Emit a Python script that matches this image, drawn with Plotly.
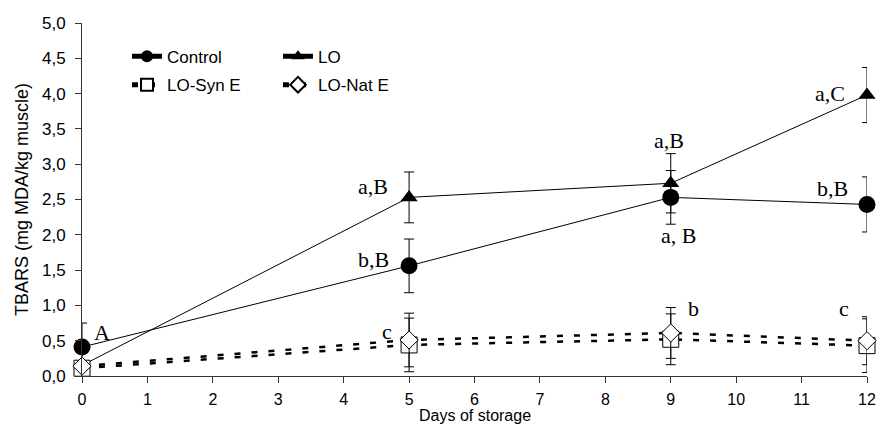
import plotly.graph_objects as go

days = [0, 5, 9, 12]

control = [0.41, 1.56, 2.53, 2.43]
control_err = [0.34, 0.38, 0.38, 0.39]

lo = [0.15, 2.53, 2.73, 3.98]
lo_err = [0.05, 0.36, 0.42, 0.39]

lo_syn = [0.11, 0.44, 0.52, 0.43]
lo_syn_err = [0.03, 0.38, 0.36, 0.38]

lo_nat = [0.14, 0.51, 0.61, 0.50]
lo_nat_err = [0.03, 0.38, 0.36, 0.34]

x_ticks = list(range(0, 13))
y_ticks = [0, 0.5, 1, 1.5, 2, 2.5, 3, 3.5, 4, 4.5, 5]

# significance letters: (series, day index, text, xshift, yshift)
labels = [
    ("control", 0, "A", 20, 15),
    ("control", 1, "b,B", -36, 6),
    ("lo", 1, "a,B", -36, 11),
    ("nat", 1, "c", -22, 8),
    ("lo", 2, "a,B", -2, 43),
    ("control", 2, "a, B", 8, -38),
    ("nat", 2, "b", 23, 24),
    ("lo", 3, "a,C", -37, 2),
    ("control", 3, "b,B", -35, 16),
    ("nat", 3, "c", -23, 32),
]

series_vals = {"control": control, "lo": lo, "syn": lo_syn, "nat": lo_nat}

BLACK = "black"
SANS = "Liberation Sans, Arial, sans-serif"
SERIF = "Liberation Serif, Times New Roman, serif"

fig = go.Figure()

def err(vals):
    return dict(type="data", array=vals, visible=True, color=BLACK,
                thickness=1, width=5)

fig.add_trace(go.Scatter(
    x=days, y=control, name="Control", mode="lines+markers",
    line=dict(color=BLACK, width=1),
    marker=dict(symbol="circle", size=17, color=BLACK),
    error_y=err(control_err), cliponaxis=False, legend="legend"))

fig.add_trace(go.Scatter(
    x=days, y=lo, name="LO", mode="lines+markers",
    line=dict(color=BLACK, width=1),
    marker=dict(symbol="triangle-up", size=15, color=BLACK),
    error_y=err(lo_err), cliponaxis=False, legend="legend"))

fig.add_trace(go.Scatter(
    x=days, y=lo_syn, name="LO-Syn E", mode="lines+markers",
    line=dict(color=BLACK, width=2.5, dash="6px,11px"),
    marker=dict(symbol="square", size=16, color="white",
                line=dict(color=BLACK, width=1)),
    error_y=err(lo_syn_err), cliponaxis=False, legend="legend2"))

fig.add_trace(go.Scatter(
    x=days, y=lo_nat, name="LO-Nat E", mode="lines+markers",
    line=dict(color=BLACK, width=2.5, dash="6px,11px"),
    marker=dict(symbol="diamond", size=14, color="white",
                line=dict(color=BLACK, width=1)),
    error_y=err(lo_nat_err), cliponaxis=False, legend="legend2"))

annotations = []
for key, idx, text, xs, ys in labels:
    annotations.append(dict(
        x=days[idx], y=series_vals[key][idx], xref="x", yref="y",
        text=text, showarrow=False, xshift=xs, yshift=ys,
        font=dict(family=SERIF, size=22, color=BLACK)))

# x-axis title placed just under the tick labels, as in the reference
annotations.append(dict(
    x=0.5, y=-0.1133, xref="paper", yref="paper", xanchor="center",
    yanchor="middle", text="Days of storage", showarrow=False,
    font=dict(family=SANS, size=16, color=BLACK)))

fig.update_layout(
    width=880, height=426,
    margin=dict(l=82, r=13, t=23, b=50),
    paper_bgcolor="white", plot_bgcolor="white",
    separators=", ",
    font=dict(family=SANS, size=17, color=BLACK),
    annotations=annotations,
    legend=dict(orientation="h", x=0.0573, xanchor="left", y=0.9045,
                yanchor="middle", entrywidth=106, itemsizing="constant",
                bgcolor="rgba(0,0,0,0)", font=dict(family=SANS, size=17)),
    legend2=dict(orientation="h", x=0.0573, xanchor="left", y=0.824,
                 yanchor="middle", entrywidth=106, itemsizing="constant",
                 bgcolor="rgba(0,0,0,0)", font=dict(family=SANS, size=17)),
)

fig.update_xaxes(
    range=[0, 12], tickvals=x_ticks, ticktext=[str(v) for v in x_ticks],
    showgrid=False, zeroline=False, showline=True, linecolor="#333",
    linewidth=1, ticks="outside", ticklen=6, tickcolor="#333",
    ticklabelstandoff=3, automargin=False, tickfont=dict(size=16))

fig.update_yaxes(
    range=[0, 5], tickvals=y_ticks, tickformat=".1f",
    showgrid=False, zeroline=False, showline=True, linecolor="#333",
    linewidth=1, ticks="outside", ticklen=6, tickcolor="#333",
    ticklabelstandoff=6, automargin=False,
    title=dict(text="TBARS (mg MDA/kg muscle)",
               font=dict(family=SANS, size=18), standoff=8))

fig.write_html("out.html")
